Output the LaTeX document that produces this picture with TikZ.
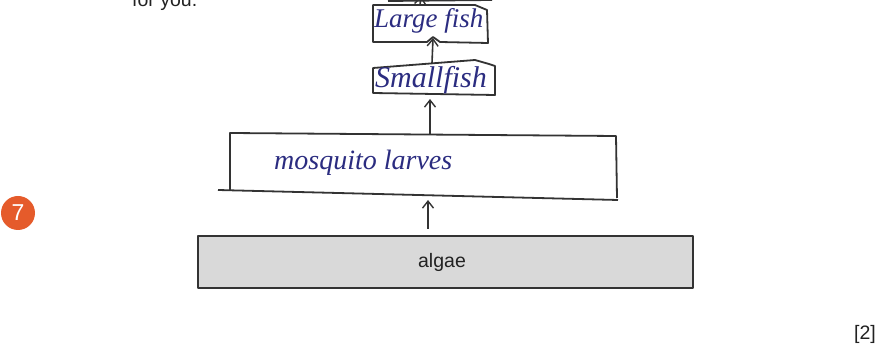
\documentclass[tikz,border=0pt]{standalone}
\usepackage{fontspec}
\setmainfont{Liberation Sans}
\newfontfamily\handfont{Liberation Serif}
\usetikzlibrary{arrows.meta}
\definecolor{pencil}{HTML}{333333}
\definecolor{ink}{HTML}{2B2C80}
\definecolor{badge}{HTML}{E55B2B}
\definecolor{algaefill}{HTML}{D9D9D9}
\definecolor{printink}{HTML}{222222}
\tikzset{
  sketch/.style={draw=pencil, line width=1.8pt, line join=round},
  feeds/.style={pencil, line width=1.6pt, -{Straight Barb[length=7pt,width=11pt,line width=1.4pt]}},
  hand/.style={text=ink, font=\handfont\itshape\fontsize{#1}{#1}\selectfont, inner sep=0pt},
  print/.style={text=printink, font=\fontsize{19.5}{21}\selectfont, inner sep=0pt}
}
\begin{document}
\begin{tikzpicture}[x=1pt,y=-1pt]
\useasboundingbox (0,0) rectangle (879,344);
\clip (0,0) rectangle (879,344);
% heading text running off the top
\node[print, anchor=base west] (foryou) at (132,7) {for you.};
% question number badge
\node[circle, fill=badge, minimum size=34pt, inner sep=0pt, text=white,
      font=\fontsize{23}{23}\selectfont] (qnum) at (18,213) {7};
% mark allocation
\node[print, anchor=base east] (marks) at (876,340) {[2]};

% producer level
\node[sketch, fill=algaefill, line width=1.8pt, minimum width=495pt, minimum height=52pt,
      anchor=north west, inner sep=0pt] (algae) at (197,235) {};
\node[print] (algaetxt) at (442,262) {algae};

% primary consumer level
\draw[sketch] (230,190) -- (230,133) -- (616,136) -- (617,198);
\draw[sketch] (218,190) -- (618,200);
\coordinate (mosqtop) at (430,134);
\coordinate (mosqbot) at (428,195);
\node[hand=28, anchor=base west] (mosq) at (274,170) {mosquito larves};

% secondary consumer level
\draw[sketch] (373,93) -- (373,68) -- (475,60) -- (489,64) -- (495,66) -- (495,95) -- cycle;
\coordinate (smalltop) at (432,63);
\coordinate (smallbot) at (430,94);
\node[hand=30, anchor=base west] (small) at (375,88) {Smallfish};

% tertiary consumer level
\draw[sketch] (373,42) -- (373,5) -- (475,5) -- (487,10) -- (488,43) -- (440,42)
  -- (433,37) -- (427,42) -- cycle;
\coordinate (largetop) at (420,5);
\coordinate (largebot) at (433,38);
\node[hand=27, anchor=base west] (large) at (374,28) {Large fish};

% next level, mostly cut off
\draw[sketch] (388,1) -- (492,0);
\coordinate (uppercut) at (421,-4);

% energy flow arrows
\draw[feeds] (algae.north -| mosqbot) ++(0,-6) coordinate (a1) -- (mosqbot |- 0,200);
\draw[feeds] (mosqtop) -- (smallbot |- 0,99);
\draw[feeds] (smalltop) -- (largebot);
\draw[feeds] (largetop) -- (uppercut);
\end{tikzpicture}
\end{document}
